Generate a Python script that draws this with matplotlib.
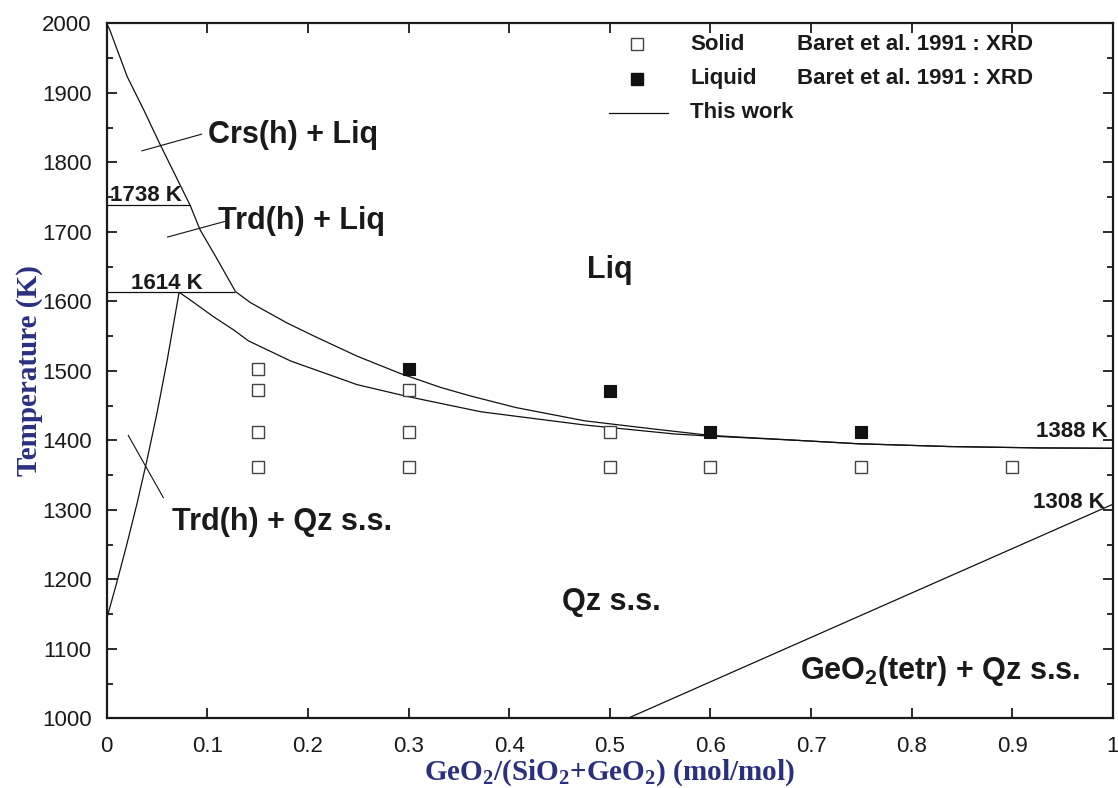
import matplotlib
matplotlib.use("Agg")
import matplotlib.pyplot as plt
from matplotlib.ticker import MultipleLocator

# ---- data ----
crs_trd_liq_x = [0.0, 0.003, 0.0205, 0.037, 0.053, 0.083, 0.0928, 0.1093, 0.128]
crs_trd_liq_T = [2000, 1991, 1923, 1875, 1826, 1738, 1703, 1662, 1614]

qz_liq_x = [0.128, 0.143, 0.179, 0.206, 0.249, 0.292, 0.332, 0.361, 0.407, 0.475,
            0.545, 0.6, 0.679, 0.747, 0.837, 0.928, 1.0]
qz_liq_T = [1614, 1598, 1569, 1550, 1521, 1496, 1476, 1464, 1447, 1428,
            1416, 1407, 1400.5, 1395, 1391, 1389, 1388.5]

qz_sol_x = [0.072, 0.083, 0.106, 0.126, 0.141, 0.183, 0.249, 0.299, 0.372, 0.475,
            0.565, 0.6, 0.679, 0.747, 0.837, 0.928, 1.0]
qz_sol_T = [1613, 1602, 1578, 1559, 1543, 1514, 1480, 1463, 1441, 1422,
            1409, 1406, 1400.5, 1395, 1391, 1389, 1388.5]

trd_sol_x = [0.0, 0.01, 0.02, 0.03, 0.04, 0.05, 0.06, 0.072]
trd_sol_T = [1143, 1195, 1250, 1308, 1371, 1439, 1514, 1613]

geo2_x = [0.518, 0.798, 1.0]
geo2_T = [1000, 1179, 1308]

inv_1738_x = [0.0, 0.083]
inv_1738_T = [1738, 1738]
inv_1614_x = [0.0, 0.128]
inv_1614_T = [1614, 1614]

solid_x = [0.15, 0.15, 0.15, 0.15, 0.3, 0.3, 0.3, 0.5, 0.5, 0.6, 0.75, 0.9]
solid_T = [1503, 1472, 1412, 1362, 1472, 1412, 1362, 1412, 1362, 1362, 1362, 1362]

liquid_x = [0.3, 0.5, 0.6, 0.75]
liquid_T = [1502, 1471, 1412, 1412]

x_ticks = [0, 0.1, 0.2, 0.3, 0.4, 0.5, 0.6, 0.7, 0.8, 0.9, 1]
x_tick_labels = ["0", "0.1", "0.2", "0.3", "0.4", "0.5", "0.6", "0.7", "0.8", "0.9", "1"]
y_ticks = [1000, 1100, 1200, 1300, 1400, 1500, 1600, 1700, 1800, 1900, 2000]

# ---- figure ----
fig = plt.figure(figsize=(11.18, 7.88), dpi=100)
ax = fig.add_axes([0.0954, 0.0885, 0.9001, 0.8819])

lc = "#111111"
lw = 0.9
for xs, ts in [(crs_trd_liq_x, crs_trd_liq_T), (qz_liq_x, qz_liq_T), (qz_sol_x, qz_sol_T),
               (trd_sol_x, trd_sol_T), (geo2_x, geo2_T), (inv_1738_x, inv_1738_T),
               (inv_1614_x, inv_1614_T)]:
    ax.plot(xs, ts, color=lc, lw=lw, solid_capstyle="butt")

ax.plot(solid_x, solid_T, ls="none", marker="s", ms=8, mfc="white", mec="#444444", mew=1.0, zorder=3)
ax.plot(liquid_x, liquid_T, ls="none", marker="s", ms=8.5, mfc="#111111", mec="#111111", mew=0.8, zorder=3)

# leader lines
ax.plot([0.035, 0.0944], [1816.5, 1840.5], color=lc, lw=0.8)
ax.plot([0.0606, 0.1176], [1692.5, 1715], color=lc, lw=0.8)
ax.plot([0.0215, 0.0563], [1407, 1317.5], color=lc, lw=0.8)

tc = "#1a1a1a"
big = dict(fontsize=22, fontweight="bold", color=tc, family="Liberation Sans", va="center")
small = dict(fontsize=16, fontweight="bold", color=tc, family="Liberation Sans", va="center")
ax.text(0.1007, 1839.5, "Crs(h) + Liq", ha="left", **big)
ax.text(0.111, 1716, "Trd(h) + Liq", ha="left", **big)
ax.text(0.5, 1645, "Liq", ha="center", **big)
ax.text(0.065, 1283, "Trd(h) + Qz s.s.", ha="left", **big)
ax.text(0.452, 1168, "Qz s.s.", ha="left", **big)
ax.text(0.689, 1068, r"GeO$_\mathregular{2}$(tetr) + Qz s.s.", ha="left", **big)
ax.text(0.003, 1752, "1738 K", ha="left", **small)
ax.text(0.024, 1625, "1614 K", ha="left", **small)
ax.text(0.995, 1413, "1388 K", ha="right", **small)
ax.text(0.992, 1310, "1308 K", ha="right", **small)

# legend (manual)
leg = dict(fontsize=16, fontweight="bold", color=tc, family="Liberation Sans", va="center",
           transform=ax.transAxes)
ax.plot([0.527], [0.970], transform=ax.transAxes, ls="none", marker="s", ms=8, mfc="white",
        mec="#444444", mew=1.0, clip_on=False)
ax.plot([0.527], [0.920], transform=ax.transAxes, ls="none", marker="s", ms=8.5, mfc="#111111",
        mec="#111111", clip_on=False)
ax.plot([0.499, 0.558], [0.871, 0.871], transform=ax.transAxes, color=lc, lw=lw)
ax.text(0.580, 0.970, "Solid", ha="left", **leg)
ax.text(0.686, 0.970, "Baret et al. 1991 : XRD", ha="left", **leg)
ax.text(0.580, 0.920, "Liquid", ha="left", **leg)
ax.text(0.686, 0.920, "Baret et al. 1991 : XRD", ha="left", **leg)
ax.text(0.580, 0.871, "This work", ha="left", **leg)

ax.set_xlim(0, 1)
ax.set_ylim(1000, 2000)
ax.set_xticks(x_ticks)
ax.set_xticklabels(x_tick_labels)
ax.set_yticks(y_ticks)
ax.yaxis.set_minor_locator(MultipleLocator(50))
ax.tick_params(which="both", direction="in", top=True, right=True, width=1.3, colors="#1a1a1a")
ax.tick_params(which="major", length=7)
ax.tick_params(which="minor", length=4)
ax.tick_params(axis="y", pad=11)
ax.tick_params(axis="x", pad=13)
for lab in ax.get_xticklabels() + ax.get_yticklabels():
    lab.set_family("Liberation Sans")
    lab.set_fontsize(16)
    lab.set_color("#1a1a1a")
for s in ax.spines.values():
    s.set_linewidth(1.6)
    s.set_color("#1a1a1a")

navy = "#2a2f80"
ax.set_xlabel(r"GeO$_\mathregular{2}$/(SiO$_\mathregular{2}$+GeO$_\mathregular{2}$) (mol/mol)",
              fontsize=21, fontweight="bold", family="Liberation Serif", color=navy, va="center")
ax.xaxis.set_label_coords(0.5, -0.079)
ax.set_ylabel("Temperature (K)", fontsize=21, fontweight="bold", family="Liberation Serif",
              color=navy, va="center")
ax.yaxis.set_label_coords(-0.077, 0.5)

fig.savefig("out.png", dpi=100)
